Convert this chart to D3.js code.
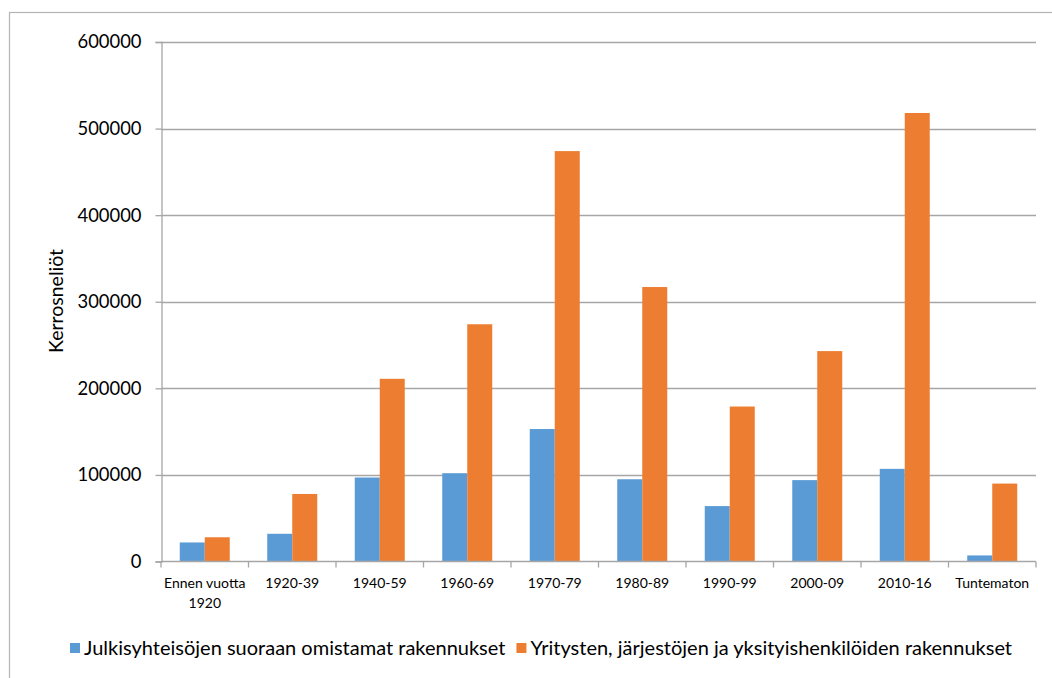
<!DOCTYPE html>
<html>
<head>
<meta charset="utf-8">
<script src="https://cdn.jsdelivr.net/npm/d3@7"></script>
<style>
  html, body { margin: 0; padding: 0; background: #fff; }
  svg { display: block; font-family: Lato, "Open Sans", sans-serif; }
</style>
</head>
<body>
<svg id="chart" width="1052" height="678"></svg>
<script>
// Floor area (kerrosneliöt) by construction period and owner type
const categories = ["Ennen vuotta\n1920", "1920-39", "1940-59", "1960-69", "1970-79",
                    "1980-89", "1990-99", "2000-09", "2010-16", "Tuntematon"];
const seriesNames = ["Julkisyhteisöjen suoraan omistamat rakennukset",
                     "Yritysten, järjestöjen ja yksityishenkilöiden rakennukset"];
const publicValues  = [22000, 32000, 97000, 102000, 153000, 95000, 64000, 94000, 107000, 7000];
const privateValues = [28000, 78000, 211000, 274000, 474000, 317000, 179000, 243000, 518000, 90000];
const yTicks = [0, 100000, 200000, 300000, 400000, 500000, 600000];
const colors = ["#5b9bd5", "#ed7d31"];
const yTitle = "Kerrosneliöt";

const svg = d3.select("#chart");
const plot = { left: 161, right: 1036, top: 42, bottom: 561.5 };

// outer chart frame
svg.append("rect")
  .attr("x", 9.5).attr("y", 12.5).attr("width", 1100).attr("height", 700)
  .attr("fill", "none").attr("stroke", "#b4b4b4").attr("stroke-width", 1.2);

const x = d3.scaleBand().domain(d3.range(categories.length))
  .range([plot.left, plot.right]).paddingInner(0).paddingOuter(0);
const xInner = d3.scaleBand().domain([0, 1])
  .range([0, x.bandwidth()]).paddingInner(0).paddingOuter(0.75);
const y = d3.scaleLinear().domain([0, 600000]).range([plot.bottom, plot.top]);

// horizontal gridlines
svg.append("g").selectAll("line").data(yTicks.filter(d => d > 0)).join("line")
  .attr("x1", plot.left).attr("x2", plot.right)
  .attr("y1", d => Math.round(y(d)) + 0.5).attr("y2", d => Math.round(y(d)) + 0.5)
  .attr("stroke", "#a6a6a6").attr("stroke-width", 1.3);

// y axis
const yAxis = d3.axisLeft(y).tickValues(yTicks).tickSize(6).tickPadding(14)
  .tickFormat(d3.format("d"));
const gy = svg.append("g").attr("transform", `translate(${plot.left + 0.5},0)`).call(yAxis);
gy.select(".domain").attr("stroke", "#a6a6a6").attr("stroke-width", 1.3);
gy.selectAll(".tick line").attr("stroke", "#a6a6a6").attr("stroke-width", 1.3);
gy.selectAll(".tick text").attr("font-size", 18.4).attr("fill", "#000")
  .style("font-family", "Lato, sans-serif");

// bars
const series = [publicValues, privateValues];
series.forEach((vals, si) => {
  svg.append("g").selectAll("rect").data(vals).join("rect")
    .attr("x", (d, i) => x(i) + xInner(si))
    .attr("width", xInner.bandwidth())
    .attr("y", d => y(d))
    .attr("height", d => y(0) - y(d))
    .attr("fill", colors[si]);
});

// x axis line and category boundary ticks
const xg = svg.append("g");
xg.append("line")
  .attr("x1", plot.left).attr("x2", plot.right)
  .attr("y1", plot.bottom).attr("y2", plot.bottom)
  .attr("stroke", "#a6a6a6").attr("stroke-width", 1.3);
const bounds = d3.range(categories.length + 1).map(i => plot.left + i * x.bandwidth());
xg.selectAll("line.tk").data(bounds).join("line").attr("class", "tk")
  .attr("x1", d => d).attr("x2", d => d)
  .attr("y1", plot.bottom).attr("y2", plot.bottom + 6)
  .attr("stroke", "#a6a6a6").attr("stroke-width", 1.3);

// category labels
const labels = xg.selectAll("text.cat").data(categories).join("text").attr("class", "cat")
  .attr("text-anchor", "middle").attr("font-size", 14).attr("fill", "#000")
  .attr("transform", (d, i) => `translate(${x(i) + x.bandwidth() / 2},${plot.bottom + 26})`);
labels.each(function(d) {
  const lines = d.split("\n");
  d3.select(this).selectAll("tspan").data(lines).join("tspan")
    .attr("x", 0).attr("dy", (l, k) => k === 0 ? 0 : 20).text(l => l);
});

// y axis title
svg.append("text")
  .attr("transform", "translate(63,301) rotate(-90)")
  .attr("text-anchor", "middle").attr("font-size", 19.5).attr("fill", "#000")
  .text(yTitle);

// legend: swatch, label, then the next entry right after
const lg = svg.append("g");
let lx = 70;
seriesNames.forEach((name, i) => {
  lg.append("rect").attr("x", lx).attr("y", 643).attr("width", 10).attr("height", 10)
    .attr("fill", colors[i]);
  const t = lg.append("text").attr("x", lx + 14).attr("y", 655)
    .attr("font-size", 20).attr("fill", "#000").text(name);
  lx += 14 + t.node().getComputedTextLength() + 11;
});
</script>
</body>
</html>
